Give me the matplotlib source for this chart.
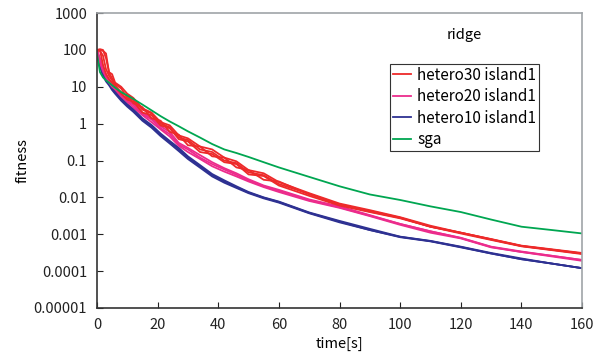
import numpy as np
import matplotlib.pyplot as plt

plt.rcParams['font.family'] = ['Noto Sans CJK JP', 'DejaVu Sans']

# time axis [s]
t = [0, 1, 2, 3, 4, 5, 6, 8, 10, 12, 15, 18, 21, 24, 27, 30, 34, 38, 42, 46, 50, 55,
     60, 70, 80, 90, 100, 110, 120, 130, 140, 150, 160]

# hetero30 island1 (several runs)
h30_a = [100, 105, 100, 60, 25, 22, 13, 10, 6.5, 5.0, 2.6, 2.0, 1.1, 0.9, 0.48, 0.40, 0.24,
         0.20, 0.12, 0.095, 0.055, 0.045, 0.026, 0.013, 0.0068, 0.0045, 0.0029, 0.0017,
         0.0011, 0.00074, 0.00049, 0.00039, 0.00031]
h30_b = [95, 95, 70, 30, 20, 15, 11, 7.0, 5.8, 3.6, 2.8, 1.4, 1.2, 0.6, 0.5, 0.26, 0.24,
         0.13, 0.12, 0.065, 0.055, 0.03, 0.027, 0.012, 0.0065, 0.0041, 0.0028, 0.0016,
         0.0011, 0.00072, 0.00048, 0.00038, 0.0003]
h30_c = [100, 98, 40, 22, 16, 13, 10, 6.5, 4.5, 4.0, 2.0, 1.7, 0.9, 0.75, 0.38, 0.33, 0.17,
         0.15, 0.09, 0.08, 0.042, 0.038, 0.021, 0.011, 0.006, 0.004, 0.0027, 0.0016,
         0.00105, 0.0007, 0.00047, 0.00037, 0.00029]
h30_d = [100, 100, 95, 80, 24, 17, 12, 9.0, 5.0, 4.4, 2.4, 1.9, 1.0, 0.8, 0.42, 0.36, 0.20,
         0.17, 0.10, 0.085, 0.048, 0.04, 0.023, 0.0125, 0.0063, 0.0043, 0.0028, 0.0016,
         0.0011, 0.00073, 0.00048, 0.00038, 0.0003]

# hetero20 island1
h20_a = [100, 60, 32, 22, 16, 12, 10, 6.5, 4.6, 3.4, 2.0, 1.4, 0.85, 0.6, 0.3, 0.22, 0.14,
         0.09, 0.062, 0.045, 0.031, 0.021, 0.016, 0.0088, 0.0057, 0.0033, 0.0019, 0.0012,
         0.0008, 0.00046, 0.00034, 0.00026, 0.0002]
h20_b = [90, 45, 26, 18, 13, 10, 8.5, 5.5, 3.9, 2.8, 1.7, 1.1, 0.7, 0.45, 0.25, 0.17, 0.11,
         0.07, 0.05, 0.037, 0.027, 0.019, 0.014, 0.008, 0.0052, 0.0031, 0.0018, 0.0011,
         0.00077, 0.00044, 0.00033, 0.00025, 0.00019]
h20_c = [100, 55, 30, 20, 14, 11, 9.0, 6.0, 4.2, 3.2, 1.8, 1.3, 0.75, 0.52, 0.27, 0.2, 0.12,
         0.08, 0.057, 0.041, 0.029, 0.02, 0.015, 0.0084, 0.0054, 0.0032, 0.0019, 0.0012,
         0.00079, 0.00045, 0.00033, 0.00026, 0.0002]

# hetero10 island1
h10_a = [100, 40, 22, 16, 12, 9, 7, 4.6, 3.2, 2.3, 1.3, 0.85, 0.5, 0.32, 0.2, 0.12, 0.07,
         0.04, 0.027, 0.019, 0.0135, 0.0098, 0.0075, 0.0038, 0.0022, 0.0013, 0.00085,
         0.00065, 0.00045, 0.0003, 0.00021, 0.00016, 0.00012]
h10_b = [90, 35, 20, 14, 11, 8.2, 6.5, 4.2, 2.9, 2.1, 1.2, 0.78, 0.46, 0.29, 0.18, 0.11,
         0.064, 0.037, 0.025, 0.018, 0.013, 0.0094, 0.0072, 0.0037, 0.0021, 0.0013, 0.00083,
         0.00064, 0.00044, 0.0003, 0.00021, 0.00016, 0.00012]
h10_c = [100, 45, 24, 17, 12.5, 9.6, 7.5, 5.0, 3.4, 2.5, 1.4, 0.92, 0.54, 0.34, 0.22, 0.13,
         0.075, 0.043, 0.029, 0.02, 0.014, 0.01, 0.0077, 0.0039, 0.0023, 0.0014, 0.00086,
         0.00066, 0.00046, 0.00031, 0.00022, 0.00016, 0.00012]

# sga
sga = [80, 25, 18, 15, 13, 11, 9.5, 7.2, 5.8, 4.7, 3.3, 2.3, 1.6, 1.15, 0.85, 0.62, 0.42,
       0.28, 0.2, 0.16, 0.125, 0.09, 0.065, 0.036, 0.02, 0.012, 0.0085, 0.0057, 0.004,
       0.0025, 0.0016, 0.0013, 0.00105]

c_red, c_pink, c_blue, c_green = '#ED2A2A', '#EC2C8C', '#2E3192', '#00A651'

fig = plt.figure(figsize=(6.02, 3.64), dpi=100)
ax = fig.add_axes([0.161, 0.154, 0.806, 0.810])

lw = 1.3
for i, run in enumerate([h10_a, h10_b, h10_c]):
    ax.plot(t, run, color=c_blue, lw=lw, label='hetero10 island1' if i == 0 else None)
for i, run in enumerate([h20_a, h20_b, h20_c]):
    ax.plot(t, run, color=c_pink, lw=lw, label='hetero20 island1' if i == 0 else None)
for i, run in enumerate([h30_a, h30_b, h30_c, h30_d]):
    ax.plot(t, run, color=c_red, lw=lw, label='hetero30 island1' if i == 0 else None)
ax.plot(t, sga, color=c_green, lw=lw, label='sga')

ax.set_yscale('log')
ax.set_ylim(1e-5, 1000)
ax.set_xlim(0, 160)
ax.set_xticks(range(0, 161, 20))
yt = [1e-5, 1e-4, 1e-3, 1e-2, 0.1, 1, 10, 100, 1000]
ax.set_yticks(yt)
ax.set_yticklabels(['0.00001', '0.0001', '0.001', '0.01', '0.1', '1', '10', '100', '1000'])
ax.minorticks_off()
ax.tick_params(direction='in', length=4, labelsize=10.5, colors='#222222', pad=7)

for s in ['left', 'bottom']:
    ax.spines[s].set_color('#333333')
    ax.spines[s].set_linewidth(1.2)
for s in ['top', 'right']:
    ax.spines[s].set_color('#a0a4a8')
    ax.spines[s].set_linewidth(1.2)

ax.set_ylabel('fitness', fontsize=10.5, labelpad=3)
ax.set_xlabel('time[s]', fontsize=10.5, labelpad=4)
ax.text(0.72, 0.925, 'ridge', transform=ax.transAxes, fontsize=10.5, va='center')

h, l = ax.get_legend_handles_labels()
order = [2, 1, 0, 3]
leg = ax.legend([h[i] for i in order], [l[i] for i in order], loc='upper left',
                bbox_to_anchor=(0.603, 0.829), fontsize=11, fancybox=False,
                framealpha=1, edgecolor='#333333', handlelength=1.2,
                handletextpad=0.4, borderpad=0.2, labelspacing=0.3, borderaxespad=0)
leg.get_frame().set_linewidth(0.8)

fig.savefig('out.png', dpi=100)
